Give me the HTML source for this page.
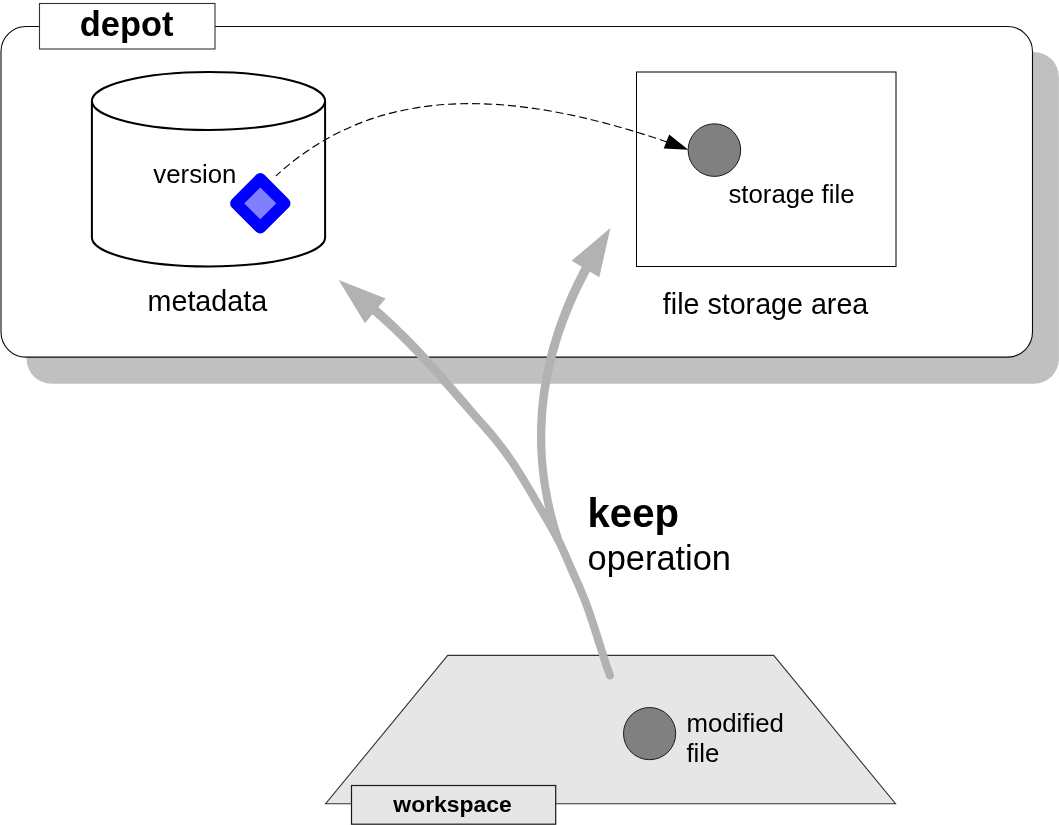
<!DOCTYPE html>
<html>
<head>
<meta charset="utf-8">
<title>keep operation</title>
<style>
  html, body { margin: 0; padding: 0; background: #ffffff; }
  body { width: 1059px; height: 825px; overflow: hidden; }
  svg { display: block; will-change: transform; }
  text { font-family: "Liberation Sans", sans-serif; fill: #000; }
</style>
</head>
<body>
<svg width="1059" height="825" viewBox="0 0 1059 825">
  <rect x="0" y="0" width="1059" height="825" fill="#ffffff"/>

  <!-- depot shadow -->
  <rect x="26.6" y="52" width="1032.3" height="331.7" rx="25" ry="25" fill="#c0c0c0"/>
  <!-- depot box -->
  <rect x="1.0" y="26.5" width="1031.5" height="330.6" rx="25" ry="25" fill="#ffffff" stroke="#0a0a0a" stroke-width="1.1"/>
  <!-- depot label -->
  <rect x="39.5" y="3.5" width="175.5" height="45.5" fill="#ffffff" stroke="#333333" stroke-width="1.1"/>
  <text x="79.8" y="36" font-size="34.4" font-weight="bold">depot</text>

  <!-- cylinder -->
  <path d="M91.9,101 L91.9,237.5 A116.6,29 0 0 0 325.1,237.5 L325.1,101" fill="#ffffff" stroke="#000" stroke-width="2"/>
  <ellipse cx="208.5" cy="101" rx="116.6" ry="29" fill="#ffffff" stroke="#000" stroke-width="2"/>
  <text x="153.3" y="183" font-size="25.8">version</text>
  <text x="147.6" y="311" font-size="28.67">metadata</text>

  <!-- storage rect -->
  <rect x="636.5" y="72" width="259.5" height="194.5" fill="#ffffff" stroke="#000" stroke-width="1"/>
  <text x="662.8" y="314" font-size="28.67">file storage area</text>

  <!-- dashed link -->
  <path d="M275.9,175.9 C374.1,86.2 503.7,85.9 668.5,142.5" fill="none" stroke="#000" stroke-width="1.15" stroke-dasharray="8.1,3.9" stroke-dashoffset="1.7"/>
  <polygon points="688.3,149.7 669.2,134.4 663.7,148.6" fill="#000"/>

  <!-- storage file circle -->
  <circle cx="714.4" cy="150.1" r="26.3" fill="#808080" stroke="#1a1a1a" stroke-width="1"/>
  <text x="728.4" y="203" font-size="25.8">storage file</text>

  <!-- version diamond -->
  <polygon points="260.3,179 284.6,203.3 260.3,227.6 236,203.3" fill="#8080ff" stroke="#0000ff" stroke-width="11.8" stroke-linejoin="round"/>

  <!-- workspace trapezoid -->
  <polygon points="447.7,655.4 773.7,655.4 895.5,803.7 325.6,803.7" fill="#e6e6e6" stroke="#333" stroke-width="1.1"/>
  <rect x="351.5" y="785.5" width="204.2" height="38.7" fill="#e6e6e6" stroke="#1a1a1a" stroke-width="1.2"/>
  <text x="393.3" y="812" font-size="22.93" font-weight="bold">workspace</text>

  <!-- modified file -->
  <circle cx="649.6" cy="733.6" r="26.1" fill="#808080" stroke="#1a1a1a" stroke-width="1"/>
  <text x="686.4" y="732" font-size="25.8">modified</text>
  <text x="686.4" y="762" font-size="25.8">file</text>

  <!-- big arrows -->
  <!-- ARROWS-START -->
  <g fill="#b2b2b2" stroke="none">
    <path d="M583.2,264.2 L581.8,266.8 L579.7,270.8 L577.7,274.7 L575.7,278.7 L573.7,282.7 L571.9,286.7 L570.0,290.6 L568.2,294.6 L566.5,298.6 L564.8,302.6 L563.2,306.5 L561.6,310.5 L560.1,314.5 L558.6,318.5 L557.1,322.5 L555.7,326.4 L554.4,330.4 L553.1,334.4 L551.9,338.4 L550.7,342.4 L549.5,346.3 L548.4,350.3 L547.4,354.3 L546.4,358.3 L545.4,362.3 L544.6,366.2 L543.7,370.2 L542.9,374.2 L542.2,378.2 L541.5,382.2 L540.8,386.1 L540.2,390.1 L539.7,394.1 L539.2,398.1 L538.7,402.1 L538.3,406.1 L538.0,410.0 L537.7,414.0 L537.5,418.0 L537.3,422.0 L537.1,426.0 L537.0,429.9 L537.0,433.9 L537.0,437.9 L537.0,441.9 L537.1,445.9 L537.3,449.8 L537.5,453.8 L537.7,457.8 L538.0,461.8 L538.4,465.8 L538.8,469.7 L539.2,473.7 L539.7,477.7 L540.2,481.7 L540.8,485.6 L541.5,489.6 L542.2,493.6 L542.9,497.6 L543.7,501.6 L544.6,505.5 L545.5,509.5 L546.4,513.5 L547.4,517.5 L548.4,521.4 L549.5,525.4 L550.7,529.4 L551.9,533.3 L553.1,537.3 L554.4,541.3 L562.2,538.7 L560.9,534.8 L559.7,530.9 L558.5,527.1 L557.4,523.2 L556.4,519.3 L555.3,515.4 L554.4,511.5 L553.4,507.7 L552.6,503.8 L551.7,499.9 L551.0,496.0 L550.2,492.1 L549.6,488.3 L548.9,484.4 L548.4,480.5 L547.8,476.6 L547.4,472.8 L546.9,468.9 L546.5,465.0 L546.2,461.1 L545.9,457.2 L545.7,453.4 L545.5,449.5 L545.4,445.6 L545.3,441.7 L545.3,437.9 L545.3,434.0 L545.4,430.1 L545.5,426.2 L545.7,422.4 L545.9,418.5 L546.1,414.6 L546.4,410.7 L546.8,406.9 L547.2,403.0 L547.7,399.1 L548.2,395.3 L548.7,391.4 L549.3,387.5 L550.0,383.6 L550.7,379.8 L551.4,375.9 L552.2,372.0 L553.1,368.1 L554.0,364.3 L554.9,360.4 L555.9,356.5 L557.0,352.6 L558.1,348.8 L559.2,344.9 L560.4,341.0 L561.6,337.1 L562.9,333.3 L564.2,329.4 L565.6,325.5 L567.0,321.6 L568.5,317.8 L570.0,313.9 L571.6,310.0 L573.2,306.1 L574.9,302.2 L576.6,298.4 L578.4,294.5 L580.2,290.6 L582.1,286.7 L584.0,282.9 L586.0,279.0 L588.0,275.1 L590.1,271.2 L591.5,268.5Z"/>
    <path d="M370.1,312.3 L372.3,314.3 L378.4,319.5 L384.2,324.8 L389.9,330.0 L395.4,335.2 L400.7,340.5 L406.0,345.7 L411.1,350.9 L416.2,356.2 L421.1,361.4 L426.0,366.6 L430.7,371.9 L435.5,377.1 L440.1,382.4 L444.8,387.7 L449.4,392.9 L454.0,398.2 L458.6,403.5 L463.2,408.7 L467.8,414.0 L472.4,419.3 L477.1,424.6 L481.7,429.8 L486.3,435.1 L490.8,440.3 L495.0,445.5 L499.1,450.7 L502.9,455.9 L506.6,461.1 L510.2,466.3 L513.6,471.6 L516.9,476.8 L520.1,482.0 L523.3,487.3 L526.4,492.6 L529.5,497.8 L532.5,503.1 L535.6,508.4 L538.8,513.7 L541.9,519.0 L545.0,524.3 L548.0,529.5 L550.9,534.7 L553.7,539.9 L556.3,545.1 L558.8,550.3 L561.1,555.6 L563.4,560.8 L565.7,566.1 L568.0,571.4 L570.4,576.7 L572.7,582.0 L575.1,587.3 L577.3,592.5 L579.5,597.7 L581.5,602.9 L583.5,608.2 L585.3,613.4 L587.1,618.7 L588.9,623.9 L590.6,629.2 L592.3,634.4 L593.9,639.7 L595.6,645.0 L597.3,650.3 L598.9,655.6 L600.7,660.9 L602.4,666.2 L604.3,671.6 L606.2,676.9 L607.0,678.2 L608.3,679.2 L609.8,679.5 L611.3,679.3 L612.7,678.5 L613.6,677.2 L614.0,675.7 L613.8,674.1 L611.9,668.9 L610.1,663.6 L608.4,658.4 L606.7,653.1 L605.0,647.9 L603.3,642.6 L601.7,637.3 L600.0,632.0 L598.3,626.7 L596.6,621.4 L594.8,616.1 L593.0,610.7 L591.1,605.4 L589.1,600.1 L587.0,594.7 L584.8,589.4 L582.5,584.0 L580.1,578.7 L577.8,573.4 L575.4,568.1 L573.1,562.9 L570.8,557.6 L568.5,552.3 L566.1,547.0 L563.6,541.6 L560.9,536.2 L558.0,530.9 L555.0,525.5 L552.0,520.2 L548.9,514.9 L545.7,509.6 L542.6,504.3 L539.5,499.0 L536.5,493.8 L533.4,488.5 L530.2,483.2 L527.0,477.8 L523.8,472.5 L520.4,467.2 L517.0,461.8 L513.3,456.5 L509.6,451.1 L505.7,445.7 L501.5,440.4 L497.2,435.0 L492.7,429.6 L488.1,424.3 L483.4,419.0 L478.8,413.7 L474.2,408.4 L469.6,403.1 L465.1,397.8 L460.5,392.5 L455.9,387.2 L451.3,381.9 L446.7,376.6 L442.0,371.3 L437.3,366.0 L432.5,360.7 L427.6,355.3 L422.7,350.0 L417.6,344.7 L412.4,339.3 L407.1,334.0 L401.7,328.7 L396.1,323.3 L390.4,318.0 L384.5,312.6 L378.4,307.3 L376.2,305.3Z"/>
    <polygon points="338.7,280 385.6,298.5 364.9,323.2"/>
    <polygon points="610.4,228.1 571.6,260.7 599.3,277.2"/>
  </g>
  <!-- ARROWS-END -->

  <!-- keep operation -->
  <text x="587.5" y="527" font-size="40.13" font-weight="bold">keep</text>
  <text x="587.6" y="570" font-size="34.4">operation</text>
</svg>
</body>
</html>
